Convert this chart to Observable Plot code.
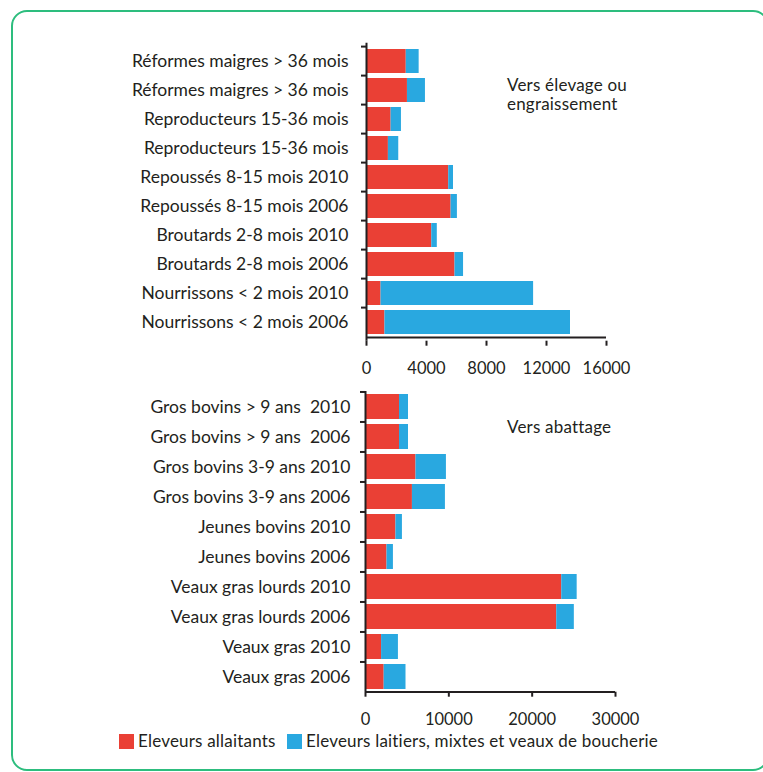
<!DOCTYPE html>
<html><head><meta charset="utf-8">
<script src="https://cdn.jsdelivr.net/npm/d3@7"></script>
<script src="https://cdn.jsdelivr.net/npm/@observablehq/plot@0.6"></script>
<style>
body{margin:0;background:#fff;font-family:Lato,"Open Sans",sans-serif;color:#231f20}
#wrap{position:relative;width:763px;height:772px;overflow:hidden}
#frame{position:absolute;left:11px;top:10px;width:758px;height:761px;border:2.5px solid #2dbd7e;border-radius:16px;box-sizing:border-box}
.chart{position:absolute;left:0}
.note{position:absolute;font-size:17px;line-height:19.5px;white-space:nowrap;letter-spacing:0.2px}
.leg{position:absolute;top:733px;font-size:17px;letter-spacing:0.2px;line-height:16px;white-space:nowrap;display:flex;align-items:center}
.sw{display:inline-block;width:15px;height:15px;margin-right:4px}
</style></head>
<body>
<div id="wrap">
  <div id="frame"></div>
  <div id="top" class="chart" style="top:0"></div>
  <div id="bottom" class="chart" style="top:380px"></div>
  <div class="note" style="left:507px;top:74.5px">Vers élevage ou<br>engraissement</div>
  <div class="note" style="left:507px;top:416.5px">Vers abattage</div>
  <div class="leg" style="left:119px"><span class="sw" id="sw0"></span><span id="lg0"></span></div>
  <div class="leg" style="left:287px"><span class="sw" id="sw1"></span><span id="lg1"></span></div>
</div>
<script>
const seriesNames = ["Eleveurs allaitants", "Eleveurs laitiers, mixtes et veaux de boucherie"];
const colors = ["#ea4035", "#29a8e0"];

const topLabels = ["Réformes maigres > 36 mois", "Réformes maigres > 36 mois", "Reproducteurs 15-36 mois", "Reproducteurs 15-36 mois", "Repoussés 8-15 mois 2010", "Repoussés 8-15 mois 2006", "Broutards 2-8 mois 2010", "Broutards 2-8 mois 2006", "Nourrissons < 2 mois 2010", "Nourrissons < 2 mois 2006"];
const topAllaitants = [2650, 2730, 1640, 1460, 5480, 5640, 4350, 5900, 970, 1230];
const topLaitiers = [860, 1200, 690, 690, 320, 420, 370, 570, 10170, 12370];
const topTicks = [0, 4000, 8000, 12000, 16000];

const bottomLabels = ["Gros bovins > 9 ans  2010", "Gros bovins > 9 ans  2006", "Gros bovins 3-9 ans 2010", "Gros bovins 3-9 ans 2006", "Jeunes bovins 2010", "Jeunes bovins 2006", "Veaux gras lourds 2010", "Veaux gras lourds 2006", "Veaux gras 2010", "Veaux gras 2006"];
const bottomAllaitants = [4080, 4080, 6060, 5630, 3650, 2580, 23550, 22950, 1930, 2240];
const bottomLaitiers = [1080, 1080, 3650, 3960, 780, 770, 1850, 2110, 2020, 2620];
const bottomTicks = [0, 10000, 20000, 30000];

const ink = "#231f20";
const W = 763;

function chart(labels, red, blue, ticks, m) {
  const idx = labels.map((_, i) => i);
  const rows = [];
  idx.forEach(i => {
    rows.push({i, series: seriesNames[0], v: red[i]});
    rows.push({i, series: seriesNames[1], v: blue[i]});
  });
  const step = (m.height - m.top - m.bottom) / labels.length;
  const frameW = W - m.left - m.right;
  return Plot.plot({
    width: W, height: m.height,
    marginLeft: m.left, marginRight: m.right, marginTop: m.top, marginBottom: m.bottom,
    style: {fontFamily: "Lato, sans-serif", fontSize: "17.5px", color: ink, background: "transparent", overflow: "visible"},
    x: {domain: [0, ticks[ticks.length - 1]], axis: null},
    y: {domain: idx, paddingInner: m.padIn, paddingOuter: m.padIn / 2, axis: null},
    color: {domain: seriesNames, range: colors},
    marks: [
      Plot.barX(rows, {x: "v", y: "i", fill: "series"}),
      Plot.ruleX([0], {stroke: ink, strokeWidth: 2}),
      Plot.ruleY([idx[idx.length - 1]], {y: d => d, dy: step / 2, stroke: ink, strokeWidth: 2}),
      Plot.ruleY(idx, {y: d => d, dy: -step / 2, insetLeft: -5, insetRight: frameW, stroke: ink, strokeWidth: 2}),
      Plot.axisX({ticks, label: null, tickSize: 5, tickPadding: 16, tickFormat: d3.format("d"), strokeWidth: 2, stroke: ink, fill: ink, fontSize: 16.5}),
      Plot.axisY({label: null, tickSize: 0, tickPadding: m.pad, tickFormat: i => labels[i], fill: ink, style: "letter-spacing:0.3px"})
    ]
  });
}

document.getElementById("top").append(chart(topLabels, topAllaitants, topLaitiers, topTicks,
  {height: 385, left: 366, right: 157, top: 42.7, bottom: 44.3, pad: 18, padIn: 0.16}));
document.getElementById("bottom").append(chart(bottomLabels, bottomAllaitants, bottomLaitiers, bottomTicks,
  {height: 350, left: 365, right: 148, top: 11, bottom: 38.3, pad: 15, padIn: 0.17}));

seriesNames.forEach((s, k) => {
  document.getElementById("sw" + k).style.background = colors[k];
  document.getElementById("lg" + k).textContent = s;
});
</script>
</body></html>
